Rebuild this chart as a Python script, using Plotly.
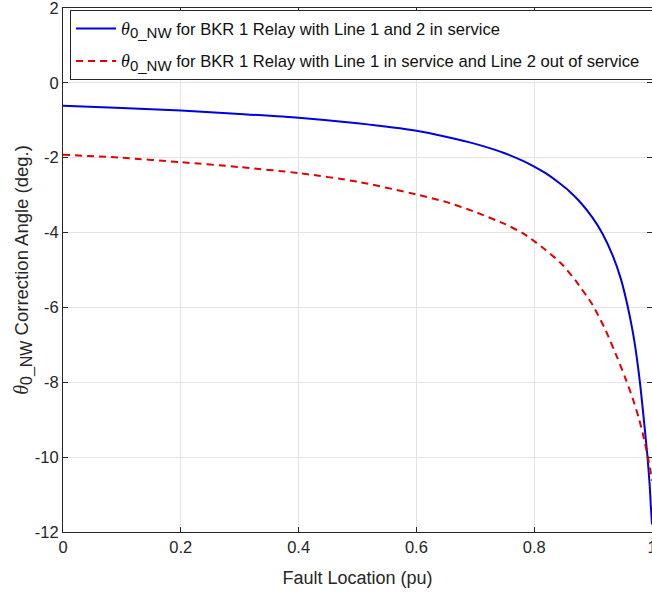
import plotly.graph_objects as go

x_blue = [0.0, 0.1, 0.2, 0.3, 0.4, 0.5, 0.6, 0.65, 0.7, 0.75, 0.78, 0.8, 0.82, 0.842, 0.86, 0.876, 0.899, 0.916, 0.933, 0.947, 0.958, 0.967, 0.974, 0.98, 0.986, 0.992, 0.996, 0.998, 1.0]
y_blue = [-0.61, -0.67, -0.74, -0.83, -0.93, -1.08, -1.28, -1.44, -1.63, -1.88, -2.08, -2.24, -2.42, -2.67, -2.9, -3.15, -3.6, -4.03, -4.6, -5.23, -5.92, -6.62, -7.32, -8.07, -8.97, -9.93, -10.73, -11.3, -11.8]

x_red = [0.0, 0.1, 0.2, 0.3, 0.4, 0.5, 0.6, 0.65, 0.7, 0.75, 0.78, 0.8, 0.82, 0.848, 0.871, 0.899, 0.921, 0.941, 0.955, 0.967, 0.978, 0.986, 0.994, 0.998, 1.0]
y_red = [-1.92, -2.0, -2.12, -2.25, -2.41, -2.64, -2.98, -3.18, -3.45, -3.77, -4.01, -4.23, -4.47, -4.86, -5.3, -5.93, -6.6, -7.34, -7.9, -8.42, -8.98, -9.48, -10.08, -10.43, -10.63]

x_ticks = [0, 0.2, 0.4, 0.6, 0.8, 1]
x_ticktext = ["0", "0.2", "0.4", "0.6", "0.8", "1"]
y_ticks = [2, 0, -2, -4, -6, -8, -10, -12]
y_ticktext = ["2", "0", "-2", "-4", "-6", "-8", "-10", "-12"]

theta_leg = "<span style=\"font-family:'Liberation Serif';font-size:18px\"><i>θ</i></span><sub><span style=\"font-size:15px\">0_NW</span></sub>"
name_blue = theta_leg + " for BKR 1 Relay with Line 1 and 2 in service"
name_red = theta_leg + " for BKR 1 Relay with Line 1 in service and Line 2 out of service\u00a0\u00a0"
ytitle = "<span style=\"font-family:'Liberation Serif';font-size:20px\"><i>θ</i></span><sub><span style=\"font-size:16px\">0_NW</span></sub> Correction Angle (deg.)"

fig = go.Figure()
fig.add_trace(go.Scatter(x=x_blue, y=y_blue, mode="lines", name=name_blue, legendgroup="a",
                         line=dict(color="#0000e0", width=2, shape="spline", smoothing=0.6)))
fig.add_trace(go.Scatter(x=x_red, y=y_red, mode="lines", name=name_red, legendgroup="b",
                         line=dict(color="#e00000", width=2, dash="7px,5px", shape="spline", smoothing=0.6)))

axis_common = dict(
    showline=True, linecolor="#262626", linewidth=1, mirror="ticks",
    ticks="inside", ticklen=5, tickcolor="#262626",
    showgrid=True, gridcolor="#e3e3e3", gridwidth=1, zeroline=False,
    tickfont=dict(family="Liberation Sans, Arial", size=16.5, color="#262626"),
    automargin=False, ticklabeloverflow="allow",
)

fig.update_layout(
    width=652, height=596,
    margin=dict(l=63, r=0, t=8, b=64, autoexpand=False),
    plot_bgcolor="white", paper_bgcolor="white",
    font=dict(family="Liberation Sans, Arial", size=16, color="#262626"),
    xaxis=dict(range=[0, 1], tickvals=x_ticks, ticktext=x_ticktext,
               title=dict(text="Fault Location (pu)", font=dict(size=18, color="#262626"), standoff=16),
               **axis_common),
    yaxis=dict(range=[-12, 2], tickvals=y_ticks, ticktext=y_ticktext,
               title=dict(text=ytitle, font=dict(size=18.5, color="#262626"), standoff=1),
               **axis_common),
    legend=dict(x=0.012, y=0.996, xanchor="left", yanchor="top",
                bgcolor="white", bordercolor="#262626", borderwidth=1,
                font=dict(family="Liberation Sans, Arial", size=16.6, color="#111111"),
                itemwidth=40, tracegroupgap=8),
    showlegend=True,
)

fig.write_html("out.html", config={"displayModeBar": False},
               post_script="document.body.style.margin='0px';document.body.style.padding='0px';")
